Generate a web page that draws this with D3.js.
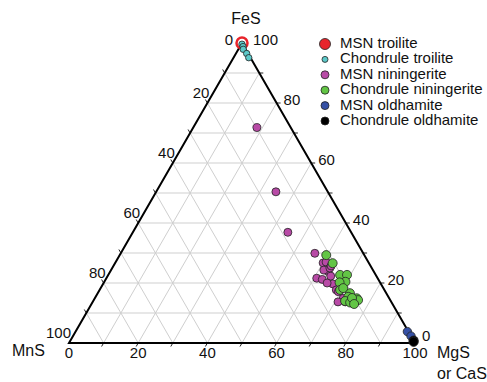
<!DOCTYPE html>
<html>
<head>
<meta charset="utf-8">
<script src="https://cdn.jsdelivr.net/npm/d3@7"></script>
<style>
  body { margin: 0; background: #fff; }
  text { font-family: "Liberation Sans", Arial, sans-serif; fill: #111; }
</style>
</head>
<body>
<svg id="chart" width="487" height="382"></svg>
<script>
// ternary data, values in percent: [FeS, MnS, MgS]
var msnTroilite = [[100, 0, 0]]
var chondruleTroilite = [[99.6, 0.2, 0.2], [98.8, 0.3, 0.9], [97.9, 0.7, 1.4], [96.5, 0.4, 3.1], [95.1, 0.5, 4.4]]
var msnNiningerite = [
  [71.8, 9.8, 18.4], [50.4, 15.0, 34.6], [36.9, 18.3, 44.8], [29.9, 14.0, 56.1],
  [26.7, 13.2, 60.1], [27.0, 12.2, 60.8], [23.8, 13.2, 63.0], [24.3, 14.2, 61.5],
  [22.3, 13.2, 64.5], [21.6, 17.6, 60.8], [21.2, 16.2, 62.6], [19.7, 13.9, 66.4],
  [20.0, 15.4, 64.6], [17.7, 13.9, 68.4], [17.1, 13.6, 69.3], [14.9, 13.3, 71.8],
  [13.7, 15.4, 70.9], [13.7, 13.3, 73.0], [25.0, 12.1, 62.9], [25.7, 11.4, 62.9]
]
var chondruleNiningerite = [
  [29.3, 11.0, 59.7], [26.6, 10.5, 62.9], [22.7, 10.3, 67.0], [22.7, 8.3, 69.0],
  [20.4, 9.9, 69.7], [20.2, 11.7, 68.1], [17.7, 12.8, 69.5], [16.6, 10.5, 72.9],
  [15.4, 11.6, 73.0], [14.0, 13.2, 72.8], [13.5, 12.0, 74.5], [14.9, 9.4, 75.7],
  [14.3, 9.3, 76.4], [15.0, 10.7, 74.3], [13.0, 11.1, 75.9], [18.3, 11.6, 70.1]
]
var msnOldhamite = [[3.8, 0.3, 95.9], [2.3, 0.0, 97.7]]
var chondruleOldhamite = [[0.8, 0.0, 99.2], [0.4, 0.2, 99.4]]

var gridSteps = [10, 20, 30, 40, 50, 60, 70, 80, 90]
var tickLabels = [0, 20, 40, 60, 80, 100]

var series = [
  { name: "MSN troilite", data: msnTroilite, color: "#e8242b", r: 5.5, lr: 5.5 },
  { name: "Chondrule troilite", data: chondruleTroilite, color: "#5cc9c9", r: 3.2, lr: 3 },
  { name: "MSN niningerite", data: msnNiningerite, color: "#b84aa6", r: 4, lr: 4 },
  { name: "Chondrule niningerite", data: chondruleNiningerite, color: "#62c545", r: 4.5, lr: 4 },
  { name: "MSN oldhamite", data: msnOldhamite, color: "#3550a5", r: 4.2, lr: 4 },
  { name: "Chondrule oldhamite", data: chondruleOldhamite, color: "#000000", r: 4.6, lr: 4 }
]

var svg = d3.select("#chart")

// base goes from MnS (left) to MgS (right), apex is FeS
var x = d3.scaleLinear().domain([0, 100]).range([69, 415])
var y = d3.scaleLinear().domain([0, 100]).range([343, 43])

function px(fe, mg) { return x(mg + fe / 2) }
function py(fe) { return y(fe) }

// grid
var grid = svg.append("g")
  .attr("stroke", "#cfcfcf")
  .attr("stroke-width", 1)
gridSteps.forEach(function(k) {
  // FeS = k
  grid.append("line")
    .attr("x1", px(k, 0)).attr("y1", py(k))
    .attr("x2", px(k, 100 - k)).attr("y2", py(k))
  // MgS = k
  grid.append("line")
    .attr("x1", px(0, k)).attr("y1", py(0))
    .attr("x2", px(100 - k, k)).attr("y2", py(100 - k))
  // MnS = k
  grid.append("line")
    .attr("x1", px(0, 100 - k)).attr("y1", py(0))
    .attr("x2", px(100 - k, 0)).attr("y2", py(100 - k))
})

// small ticks outside the triangle
var ticks = svg.append("g").attr("stroke", "#222").attr("stroke-width", 1)
gridSteps.forEach(function(k) {
  ticks.append("line") // bottom (MgS)
    .attr("x1", px(0, k)).attr("y1", py(0))
    .attr("x2", px(0, k) - 2).attr("y2", py(0) + 3.5)
  ticks.append("line") // right (FeS)
    .attr("x1", px(k, 100 - k)).attr("y1", py(k))
    .attr("x2", px(k, 100 - k) + 4).attr("y2", py(k))
  ticks.append("line") // left (MnS)
    .attr("x1", px(100 - k, 0)).attr("y1", py(100 - k))
    .attr("x2", px(100 - k, 0) - 2).attr("y2", py(100 - k) - 3.5)
})

// triangle outline
svg.append("path")
  .attr("d", d3.line()([[px(0, 0), py(0)], [px(0, 100), py(0)], [px(100, 0), py(100)]]) + "Z")
  .attr("fill", "none")
  .attr("stroke", "#000")
  .attr("stroke-width", 2)

// tick labels
var labels = svg.append("g").style("font-size", "15px")
tickLabels.forEach(function(k) {
  labels.append("text") // MgS along bottom
    .attr("x", px(0, k)).attr("y", py(0) + 15)
    .attr("text-anchor", "middle")
    .text(k)
  labels.append("text") // FeS along right side
    .attr("x", px(k, 100 - k) + (k == 100 ? 11 : 7)).attr("y", k == 0 ? py(k) - 2 : py(k) + 2)
    .attr("text-anchor", "start")
    .text(k)
  var mnX = px(100 - k, 0), mnY = py(100 - k)
  labels.append("text") // MnS along left side
    .attr("x", k == 0 ? mnX - 9 : mnX + 2).attr("y", k == 0 ? mnY + 2 : mnY - 5)
    .attr("text-anchor", "end")
    .text(k)
})

// axis titles
var titles = svg.append("g").style("font-size", "16px")
titles.append("text").attr("x", 246).attr("y", 24).attr("text-anchor", "middle").text("FeS")
titles.append("text").attr("x", 12).attr("y", 356).text("MnS")
titles.append("text").attr("x", 437).attr("y", 358).text("MgS")
titles.append("text").attr("x", 437).attr("y", 379).text("or CaS")

// data points
series.forEach(function(s) {
  svg.append("g").selectAll("circle")
    .data(s.data)
    .enter()
    .append("circle")
      .attr("cx", function(d) { return px(d[0], d[2]) })
      .attr("cy", function(d) { return py(d[0]) })
      .attr("r", s.r)
      .style("fill", s.name == "MSN troilite" ? "#fff" : s.color)
      .style("stroke", s.name == "MSN troilite" ? s.color : "#222")
      .style("stroke-width", s.name == "MSN troilite" ? 2.5 : 0.8)
})

// legend
var legend = svg.append("g")
legend.selectAll("circle")
  .data(series)
  .enter()
  .append("circle")
    .attr("cx", 325)
    .attr("cy", function(d, i) { return 44 + i * 15.4 })
    .attr("r", function(d) { return d.lr })
    .style("fill", function(d) { return d.color })
    .style("stroke", "#222")
    .style("stroke-width", 0.8)
legend.selectAll("text")
  .data(series)
  .enter()
  .append("text")
    .attr("x", 340)
    .attr("y", function(d, i) { return 44 + i * 15.4 })
    .style("font-size", "15px")
    .style("dominant-baseline", "middle")
    .text(function(d) { return d.name })
</script>
</body>
</html>
